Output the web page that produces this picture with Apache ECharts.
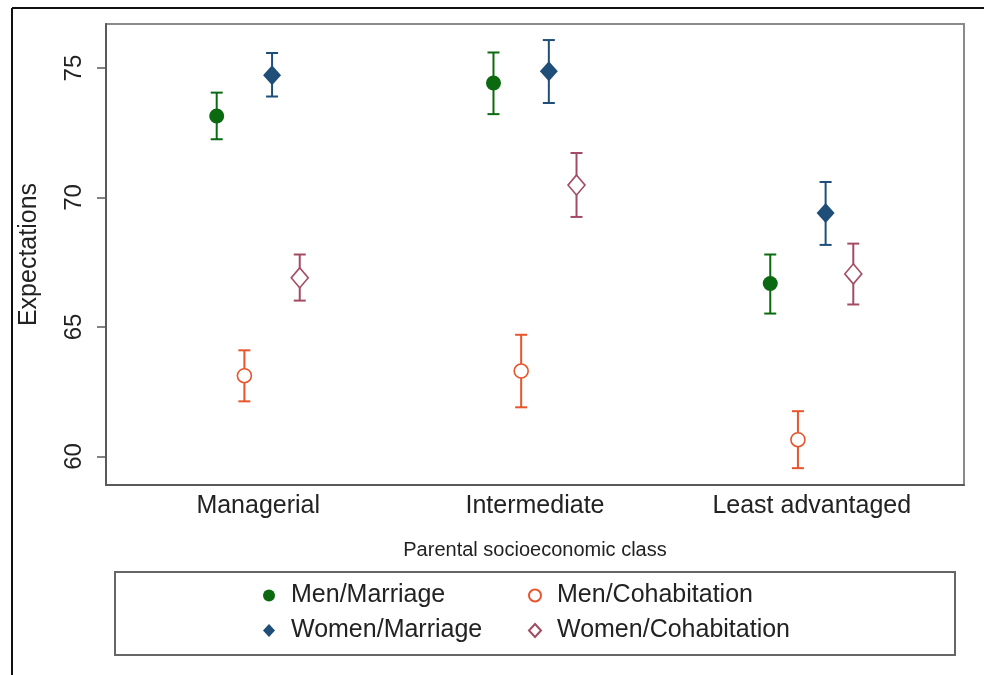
<!DOCTYPE html>
<html>
<head>
<meta charset="utf-8">
<script src="https://cdn.jsdelivr.net/npm/echarts@6/dist/echarts.min.js"></script>
<style>html,body{margin:0;padding:0;background:#fff}#c{width:984px;height:675px}</style>
</head>
<body>
<div id="c"></div>
<script>
const categories = ['Managerial', 'Intermediate', 'Least advantaged'];
const yTicks = [60, 65, 70, 75];
const seriesNames = ['Men/Marriage', 'Men/Cohabitation', 'Women/Marriage', 'Women/Cohabitation'];
const offsets = [-0.15, -0.05, 0.05, 0.15];

const menMarriage = [73.15, 74.42, 66.68];
const menMarriageLo = [72.25, 73.22, 65.52];
const menMarriageHi = [74.05, 75.60, 67.80];

const menCohab = [63.12, 63.30, 60.65];
const menCohabLo = [62.13, 61.90, 59.55];
const menCohabHi = [64.10, 64.70, 61.75];

const womenMarriage = [74.72, 74.88, 69.40];
const womenMarriageLo = [73.90, 73.65, 68.17];
const womenMarriageHi = [75.58, 76.08, 70.60];

const womenCohab = [66.90, 70.48, 67.05];
const womenCohabLo = [66.02, 69.25, 65.87];
const womenCohabHi = [67.80, 71.72, 68.22];

const FONT = '"Liberation Sans", Arial, sans-serif';
const colors = ['#0b6a10', '#e8552c', '#1f4e79', '#a24c63'];
const symbols = ['circle', 'circle', 'diamond', 'diamond'];
const hollow = [false, true, false, true];
const sizes = [[15, 15], [14, 14], [18, 20], [17, 20]];
const means = [menMarriage, menCohab, womenMarriage, womenCohab];
const los = [menMarriageLo, menCohabLo, womenMarriageLo, womenCohabLo];
const his = [menMarriageHi, menCohabHi, womenMarriageHi, womenCohabHi];

const series = [];
seriesNames.forEach((name, s) => {
  const errData = categories.map((c, i) => [i + 1 + offsets[s], los[s][i], his[s][i]]);
  series.push({
    type: 'custom',
    name: name + ' CI',
    silent: true,
    z: 2,
    data: errData,
    encode: { x: 0, y: [1, 2] },
    renderItem: function (params, api) {
      const x = api.value(0);
      const lo = api.coord([x, api.value(1)]);
      const hi = api.coord([x, api.value(2)]);
      const hw = 6;
      const st = { stroke: colors[s], lineWidth: 2 };
      return {
        type: 'group',
        children: [
          { type: 'line', shape: { x1: lo[0], y1: lo[1], x2: hi[0], y2: hi[1] }, style: st },
          { type: 'line', shape: { x1: lo[0] - hw, y1: lo[1], x2: lo[0] + hw, y2: lo[1] }, style: st },
          { type: 'line', shape: { x1: hi[0] - hw, y1: hi[1], x2: hi[0] + hw, y2: hi[1] }, style: st }
        ]
      };
    }
  });
  series.push({
    type: 'scatter',
    name: name,
    z: 3,
    symbol: symbols[s],
    symbolSize: sizes[s],
    data: categories.map((c, i) => [i + 1 + offsets[s], means[s][i]]),
    itemStyle: hollow[s]
      ? { color: '#ffffff', borderColor: colors[s], borderWidth: 1.6, opacity: 1 }
      : { color: colors[s], opacity: 1 }
  });
});

const legendText = { fontFamily: FONT, fontSize: 25, color: '#222', padding: [0, 0, 0, 11] };
const legendPos = [[263, 583], [528, 583], [263, 618], [528, 618]];
const legends = seriesNames.map((n, s) => ({
  data: [n],
  left: legendPos[s][0], top: legendPos[s][1],
  padding: 0, itemGap: 5, itemWidth: 12, itemHeight: 13,
  textStyle: legendText
}));

const option = {
  animation: false,
  backgroundColor: '#ffffff',
  grid: {
    left: 106, right: 20, top: 24, bottom: 190,
    show: true, borderColor: '#8a8a8a', borderWidth: 2, backgroundColor: '#ffffff'
  },
  xAxis: {
    type: 'value',
    min: 0.45, max: 3.55,
    name: 'Parental socioeconomic class',
    nameLocation: 'middle',
    nameGap: 55,
    nameTextStyle: { fontFamily: FONT, fontSize: 20, color: '#222' },
    axisLine: { show: true, onZero: false, lineStyle: { color: '#5a5a5a', width: 2 } },
    axisTick: { show: false },
    splitLine: { show: false },
    axisLabel: {
      customValues: [1, 2, 3],
      formatter: v => categories[Math.round(v) - 1] || '',
      fontFamily: FONT, fontSize: 25, color: '#222', margin: 9
    }
  },
  yAxis: {
    type: 'value',
    min: 58.9, max: 76.7,
    name: 'Expectations',
    nameLocation: 'middle',
    nameRotate: 90,
    nameGap: 64,
    nameTextStyle: { fontFamily: FONT, fontSize: 25, color: '#222' },
    axisLine: { show: true, onZero: false, lineStyle: { color: '#5a5a5a', width: 2 } },
    axisTick: { show: true, customValues: yTicks, length: 9, lineStyle: { color: '#5a5a5a', width: 1.5 } },
    splitLine: { show: false },
    axisLabel: {
      customValues: yTicks,
      rotate: 90,
      fontFamily: FONT, fontSize: 24, color: '#222', margin: 20
    }
  },
  legend: legends,
  graphic: [
    { type: 'line', shape: { x1: 12, y1: 8, x2: 984, y2: 8 }, style: { stroke: '#111', lineWidth: 2 }, silent: true },
    { type: 'line', shape: { x1: 12, y1: 8, x2: 12, y2: 675 }, style: { stroke: '#111', lineWidth: 2 }, silent: true },
    { type: 'rect', shape: { x: 115, y: 572, width: 840, height: 83 }, style: { fill: 'none', stroke: '#666', lineWidth: 2 }, silent: true, z: -1 }
  ],
  series: series
};

const chart = echarts.init(document.getElementById('c'), null, { renderer: 'canvas' });
chart.setOption(option);
</script>
</body>
</html>
